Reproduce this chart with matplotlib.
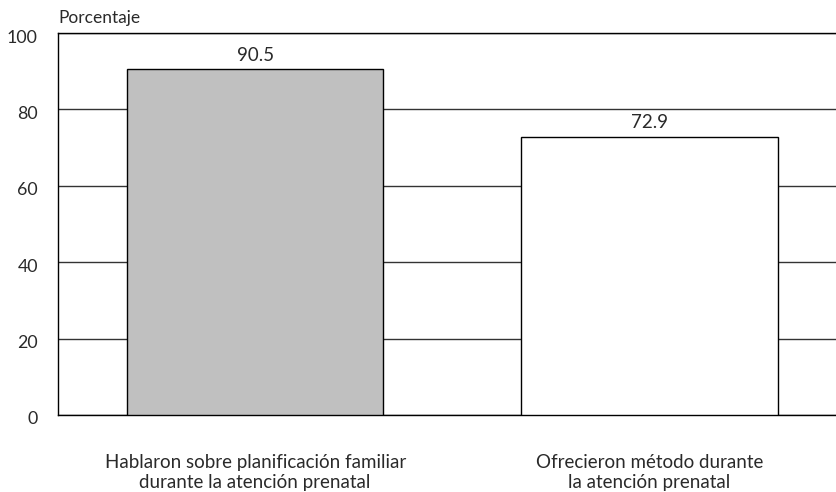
import matplotlib.pyplot as plt
import matplotlib.transforms as mtransforms

categories = ['Hablaron sobre planificación familiar\ndurante la atención prenatal',
              'Ofrecieron método durante\nla atención prenatal']
values = [90.5, 72.9]
bar_colors = ['#c0c0c0', '#ffffff']
yticks = [0, 20, 40, 60, 80, 100]

plt.rcParams['font.family'] = ['Lato', 'DejaVu Sans']

fig = plt.figure(figsize=(8.36, 4.92), dpi=100)
ax = fig.add_axes([58 / 836, 1 - 415 / 492, 778 / 836, 382 / 492])

x = list(range(len(categories)))
bars = ax.bar(x, values, width=0.65, color=bar_colors, edgecolor='black', linewidth=1, zorder=3)

for xi, v in zip(x, values):
    ax.text(xi, v + 1.4, f'{v:.1f}', ha='center', va='bottom', fontsize=13.5, color='#2a2a2a')

ax.set_xlim(-0.5, 1.473)
ax.set_ylim(0, 100)
ax.set_yticks(yticks)
ax.set_xticks(x)
ax.set_xticklabels(categories, fontsize=13.5, color='#2a2a2a', linespacing=1.2)
ax.tick_params(axis='y', length=0, pad=14.5, labelsize=12.8, labelcolor='#2a2a2a')
ax.tick_params(axis='x', length=0, pad=28)
ax.yaxis.grid(True, color='#333333', linewidth=1, zorder=0)

# labels sit a little below their gridlines in the original
shift = mtransforms.ScaledTranslation(0, -3 / 100, fig.dpi_scale_trans)
for lab in ax.get_yticklabels():
    lab.set_transform(lab.get_transform() + shift)

ax.spines['right'].set_visible(False)
for s in ['left', 'top', 'bottom']:
    ax.spines[s].set_color('black')
    ax.spines[s].set_linewidth(1)

fig.text(58 / 836, 1 - 18 / 492, 'Porcentaje', ha='left', va='center', fontsize=12.5, color='#2a2a2a')

fig.savefig('out.png', dpi=100)
